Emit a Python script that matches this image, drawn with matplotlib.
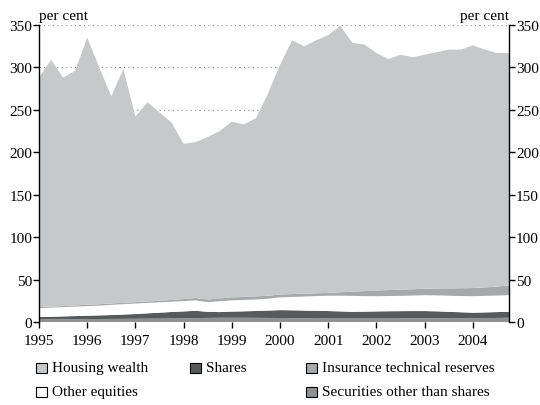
import matplotlib
matplotlib.use('Agg')
import matplotlib.pyplot as plt
from matplotlib.patches import Rectangle
import numpy as np

# quarterly data, 1995Q1 - 2004Q4, per cent
years = np.arange(1995, 2005, 0.25)

securities = [3.0, 3.1, 3.2, 3.3, 3.4, 3.5, 3.6, 3.7, 3.8, 3.9, 4.0, 4.1,
              4.3, 4.6, 4.8, 5.0, 5.0, 5.0, 4.9, 4.8, 4.7, 4.5, 4.4, 4.3,
              4.2, 4.2, 4.2, 4.2, 4.3, 4.3, 4.3, 4.4, 4.4, 4.4, 4.5, 4.5,
              4.6, 4.7, 4.8, 5.0]
shares = [2.9, 3.1, 3.4, 3.7, 4.0, 4.3, 4.6, 5.1, 5.6, 6.3, 7.0, 7.7,
          8.2, 8.6, 7.2, 6.7, 7.3, 7.6, 8.1, 8.7, 9.3, 9.3, 9.1, 8.9,
          8.7, 8.3, 7.8, 8.0, 8.2, 8.4, 8.5, 8.5, 8.5, 8.2, 7.5, 7.0,
          6.4, 6.6, 6.9, 7.0]
other_equities = [10.5, 10.8, 10.9, 11.1, 11.3, 11.6, 12.0, 12.2, 12.4, 12.3, 12.2, 12.1,
                  12.1, 12.3, 11.4, 12.8, 13.2, 13.4, 13.5, 14.0, 15.0, 15.7, 16.5, 17.4,
                  18.1, 18.5, 18.8, 18.3, 17.9, 17.9, 18.0, 18.3, 18.7, 18.8, 19.0, 19.1,
                  19.4, 19.5, 19.5, 19.6]
insurance = [1.1, 1.2, 1.3, 1.4, 1.6, 1.6, 1.6, 1.6, 1.6, 1.7, 1.8, 2.1,
             2.4, 2.8, 3.1, 3.3, 3.5, 3.6, 3.7, 3.5, 3.4, 3.4, 3.4, 3.2,
             3.3, 4.0, 4.9, 5.9, 6.8, 7.0, 7.3, 7.4, 7.6, 8.0, 8.6, 9.2,
             9.6, 10.0, 10.6, 11.4]
housing = [270.5, 290.8, 269.2, 276.5, 314.7, 279.0, 244.2, 275.4, 218.6, 234.8, 222.0, 209.0,
           183.0, 183.7, 191.5, 197.2, 207.0, 203.4, 209.8, 238.0, 270.6, 299.1, 291.6, 298.2,
           303.7, 314.0, 293.3, 290.6, 279.8, 272.4, 276.9, 273.4, 275.8, 278.6, 281.4, 281.2,
           286.0, 280.2, 275.2, 274.0]

labels = ['Securities other than shares', 'Shares', 'Other equities',
          'Insurance technical reserves', 'Housing wealth']
colors = ['#8f9092', '#58595b', '#ffffff', '#a7a8aa', '#c7c8ca']

plt.rcParams['font.family'] = ['Liberation Serif', 'DejaVu Serif']
plt.rcParams['font.size'] = 11

fig = plt.figure(figsize=(5.4, 4.06), dpi=100)
ax = fig.add_axes([39 / 540, 1 - 323 / 406, 470 / 540, 297 / 406])

ax.stackplot(years, securities, shares, other_equities, insurance, housing,
             colors=colors, linewidth=0)

ax.set_xlim(1995, 2004.75)
ax.set_ylim(0, 350)
ax.set_xticks(range(1995, 2005))
ax.set_yticks(range(0, 351, 50))
ax.grid(axis='y', color='#8a8a8a', linestyle=(0, (1, 3)), linewidth=0.8)
ax.set_axisbelow(True)

ax.spines['top'].set_visible(False)
ax.spines['bottom'].set_visible(False)
for s in ['left', 'right']:
    ax.spines[s].set_linewidth(1.0)
ax.tick_params(axis='y', direction='out', length=4, width=1, pad=1,
               right=True, labelright=True)
ax.tick_params(axis='x', direction='out', length=4, width=1, pad=5)

ax.text(0.0, 1.01, 'per cent', transform=ax.transAxes, ha='left', va='bottom')
ax.text(1.0, 1.01, 'per cent', transform=ax.transAxes, ha='right', va='bottom')

# legend, laid out like the original (3 columns, gap in the middle of row 2)
W, H = 540.0, 406.0
legend_items = [
    ('Housing wealth', colors[4], 36, 369),
    ('Shares', colors[1], 190, 369),
    ('Insurance technical reserves', colors[3], 306, 369),
    ('Other equities', colors[2], 36, 393),
    ('Securities other than shares', colors[0], 306, 393),
]
for text, col, x, y in legend_items:
    fig.add_artist(Rectangle((x / W, 1 - (y + 5) / H), 11 / W, 10 / H,
                             transform=fig.transFigure, facecolor=col,
                             edgecolor='black', linewidth=0.8))
    fig.text((x + 16) / W, 1 - y / H, text, ha='left', va='center')

fig.savefig('out.png', dpi=100)
